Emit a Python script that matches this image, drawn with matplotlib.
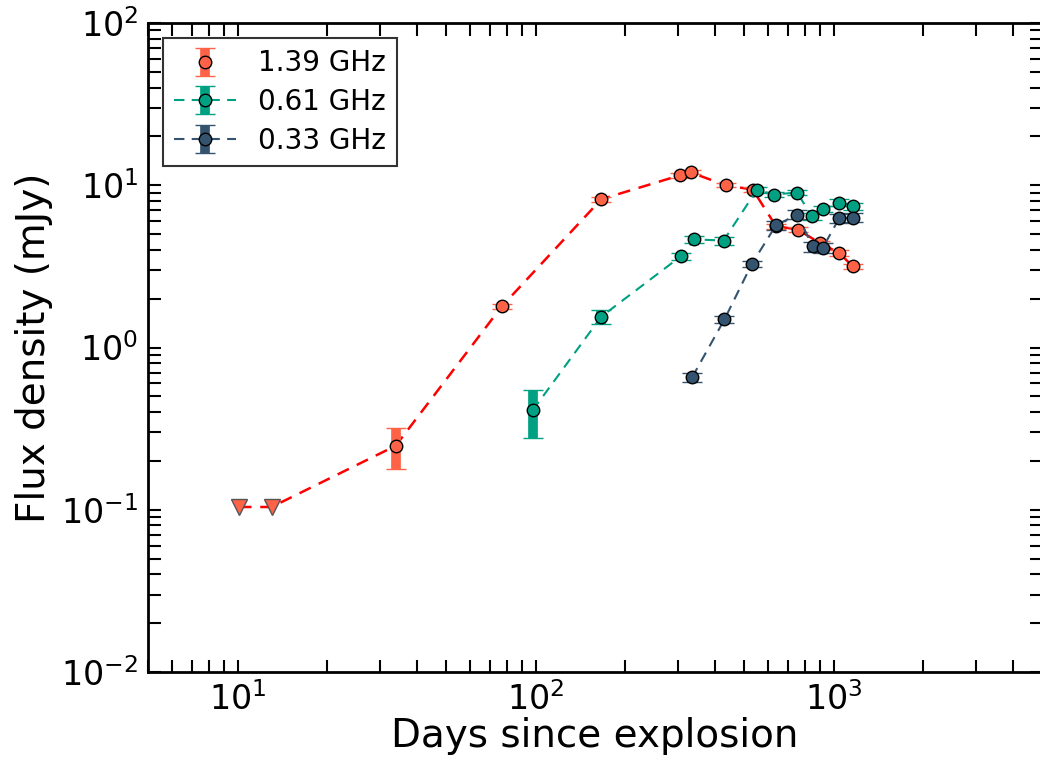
import numpy as np
import matplotlib
matplotlib.use("Agg")
from matplotlib import pyplot as plt

# 1.39 GHz
t139 = [33.9, 76.9, 166, 304, 331, 434, 535, 640, 757, 900, 1045, 1158]
f139 = [0.248, 1.79, 8.2, 11.5, 12.0, 10.0, 9.4, 5.6, 5.33, 4.4, 3.82, 3.16]
e139 = [0.069, 0.06, 0.3, 0.35, 0.35, 0.3, 0.3, 0.2, 0.2, 0.15, 0.15, 0.12]
# upper limits 1.39 GHz
t139_lim = [10.1, 13.0]
f139_lim = [0.104, 0.104]

# 0.61 GHz
t061 = [97.7, 166, 307, 341, 427, 553, 629, 753, 845, 919, 1045, 1159]
f061 = [0.41, 1.55, 3.65, 4.64, 4.56, 9.4, 8.76, 9.02, 6.44, 7.11, 7.82, 7.42]
e061 = [0.135, 0.16, 0.2, 0.25, 0.25, 0.4, 0.35, 0.35, 0.3, 0.3, 0.35, 0.35]

# 0.33 GHz
t033 = [335, 430, 531, 640, 753, 851, 919, 1045, 1159]
f033 = [0.656, 1.49, 3.27, 5.66, 6.59, 4.2, 4.12, 6.28, 6.3]
e033 = [0.04, 0.08, 0.15, 0.35, 0.4, 0.3, 0.3, 0.4, 0.4]

c139 = '#FF6347'
c061 = '#00A082'
c033 = '#34536F'

fig = plt.figure(figsize=(10.4, 7.71), dpi=100)
ax = fig.add_axes([148/1040., 1 - 672/771., 894/1040., 649/771.])

# red dashed line through all 1.39 GHz points incl. limits
ax.plot(t139_lim + t139, f139_lim + f139, 'r--', lw=1.8, dashes=(5, 3.5), zorder=2)

kw = dict(ms=9, mec='black', mew=1, elinewidth=7, capsize=7, capthick=2, zorder=3)
ax.errorbar(t139, f139, yerr=e139, fmt='o', color=c139, label='1.39 GHz', **kw)
ax.plot(t139_lim, f139_lim, 'v', color=c139, ms=11, mec='#555555', mew=1, zorder=3)
ax.errorbar(t061, f061, yerr=e061, fmt='o--', color=c061, lw=1.5, dashes=(5, 3.5),
            label='0.61 GHz', **kw)
ax.errorbar(t033, f033, yerr=e033, fmt='o--', color=c033, lw=1.5, dashes=(5, 3.5),
            label='0.33 GHz', **kw)

ax.set_xscale('log')
ax.set_yscale('log')
ax.set_xlim(5, 5000)
ax.set_ylim(0.01, 100)

ax.tick_params(which='both', direction='in', top=True, right=True, width=1.5)
ax.tick_params(which='major', length=9, labelsize=24, pad=7)
ax.tick_params(which='minor', length=9)
for s in ax.spines.values():
    s.set_linewidth(2)

ax.set_xlabel('Days since explosion', fontsize=28, labelpad=0)
ax.set_ylabel('Flux density (mJy)', fontsize=28, labelpad=6)

leg = ax.legend(loc='upper left', fontsize=20, frameon=True, fancybox=False,
                borderaxespad=0.55, handlelength=2.2, labelspacing=0.38,
                borderpad=0.4)
leg.get_frame().set_edgecolor('black')
leg.get_frame().set_linewidth(1.5)

fig.savefig('out.png', dpi=100)
